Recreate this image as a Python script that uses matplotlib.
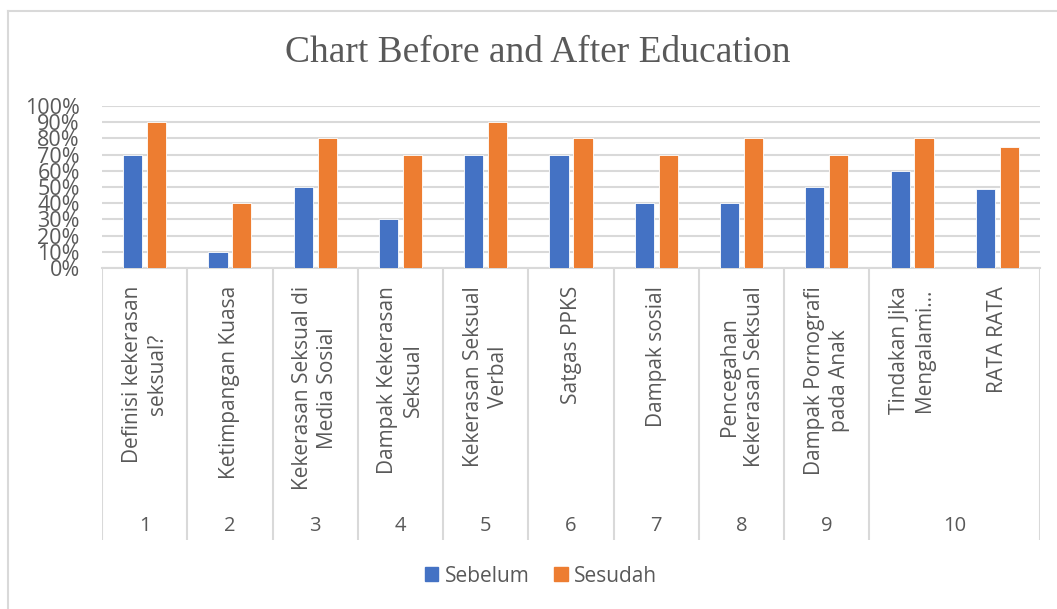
import numpy as np
import matplotlib.pyplot as plt
from matplotlib.patches import Patch
from matplotlib.lines import Line2D

# data
topics = ["Definisi kekerasan\nseksual?", "Ketimpangan Kuasa", "Kekerasan Seksual di\nMedia Sosial",
          "Dampak Kekerasan\nSeksual", "Kekerasan Seksual\nVerbal", "Satgas PPKS", "Dampak sosial",
          "Pencegahan\nKekerasan Seksual", "Dampak Pornografi\npada Anak", "Tindakan Jika\nMengalami...",
          "RATA RATA"]
groups = ["1", "2", "3", "4", "5", "6", "7", "8", "9", "10"]
group_span = [1, 1, 1, 1, 1, 1, 1, 1, 1, 2]
sebelum = [70, 10, 50, 30, 70, 70, 40, 40, 50, 60, 49]
sesudah = [90, 40, 80, 70, 90, 80, 70, 80, 70, 80, 75]

blue = "#4472C4"
orange = "#ED7D31"
grid = "#D9D9D9"
txt = "#595959"
font = "Open Sans"

W, H = 1057, 609
fig = plt.figure(figsize=(W / 100, H / 100), dpi=100)

# outer chart frame (only top and left visible in the screenshot)
fig.add_artist(Line2D([8 / W, 8 / W], [0, 1 - 11 / H], color=grid, lw=1.5))
fig.add_artist(Line2D([8 / W, 1], [1 - 11 / H, 1 - 11 / H], color=grid, lw=1.5))

fig.text(538 / W, 1 - 53 / H, "Chart Before and After Education", ha="center", va="center",
         fontsize=27, color=txt, family="Liberation Serif")

ax = fig.add_axes([102 / W, 1 - 268 / H, 938 / W, 162 / H])
x = np.arange(len(topics))
bw = 0.225
off = 0.14
ax.bar(x - off, sebelum, bw, color=blue, edgecolor="white", linewidth=0.6, label="Sebelum", zorder=3)
ax.bar(x + off, sesudah, bw, color=orange, edgecolor="white", linewidth=0.6, label="Sesudah", zorder=3)
ax.set_xlim(-0.5, len(topics) - 0.5)
ax.set_ylim(0, 100)
ax.set_yticks(np.arange(0, 101, 10))
ax.set_yticklabels([f"{v}%" for v in range(0, 101, 10)], fontsize=15.5, color=txt, family=font)
ax.tick_params(axis="y", length=0, pad=16)
ax.set_xticks([])
ax.grid(axis="y", color=grid, lw=1.5, zorder=0)
for s in ["left", "right", "top"]:
    ax.spines[s].set_visible(False)
ax.spines["bottom"].set_color(grid)
ax.spines["bottom"].set_linewidth(1.5)

# multi-level category axis below the bars
ax2 = fig.add_axes([102 / W, 1 - 540 / H, 938 / W, 272 / H])
ax2.set_xlim(ax.get_xlim())
ax2.set_ylim(0, 272)
ax2.axis("off")
edges = np.cumsum([0] + group_span) - 0.5
for e in edges:
    ax2.axvline(e, color=grid, lw=1.5)
for i, t in enumerate(topics):
    ax2.text(i, 272 - 18, t, rotation=90, ha="center", va="top", multialignment="center",
             linespacing=1.25, fontsize=15, color=txt, family=font)
for g, a, b in zip(groups, edges[:-1], edges[1:]):
    ax2.text((a + b) / 2, 272 - 258, g, ha="center", va="center", fontsize=14.5, color=txt, family=font)

handles = [Patch(color=blue, label="Sebelum"), Patch(color=orange, label="Sesudah")]
fig.legend(handles=handles, loc="center", bbox_to_anchor=(541 / W, 1 - 576 / H), ncol=2, frameon=False,
           prop={"family": font, "size": 15}, labelcolor=txt, handlelength=0.65, handleheight=0.65,
           handletextpad=0.3, columnspacing=1.2)

fig.savefig("out.png", dpi=100)
